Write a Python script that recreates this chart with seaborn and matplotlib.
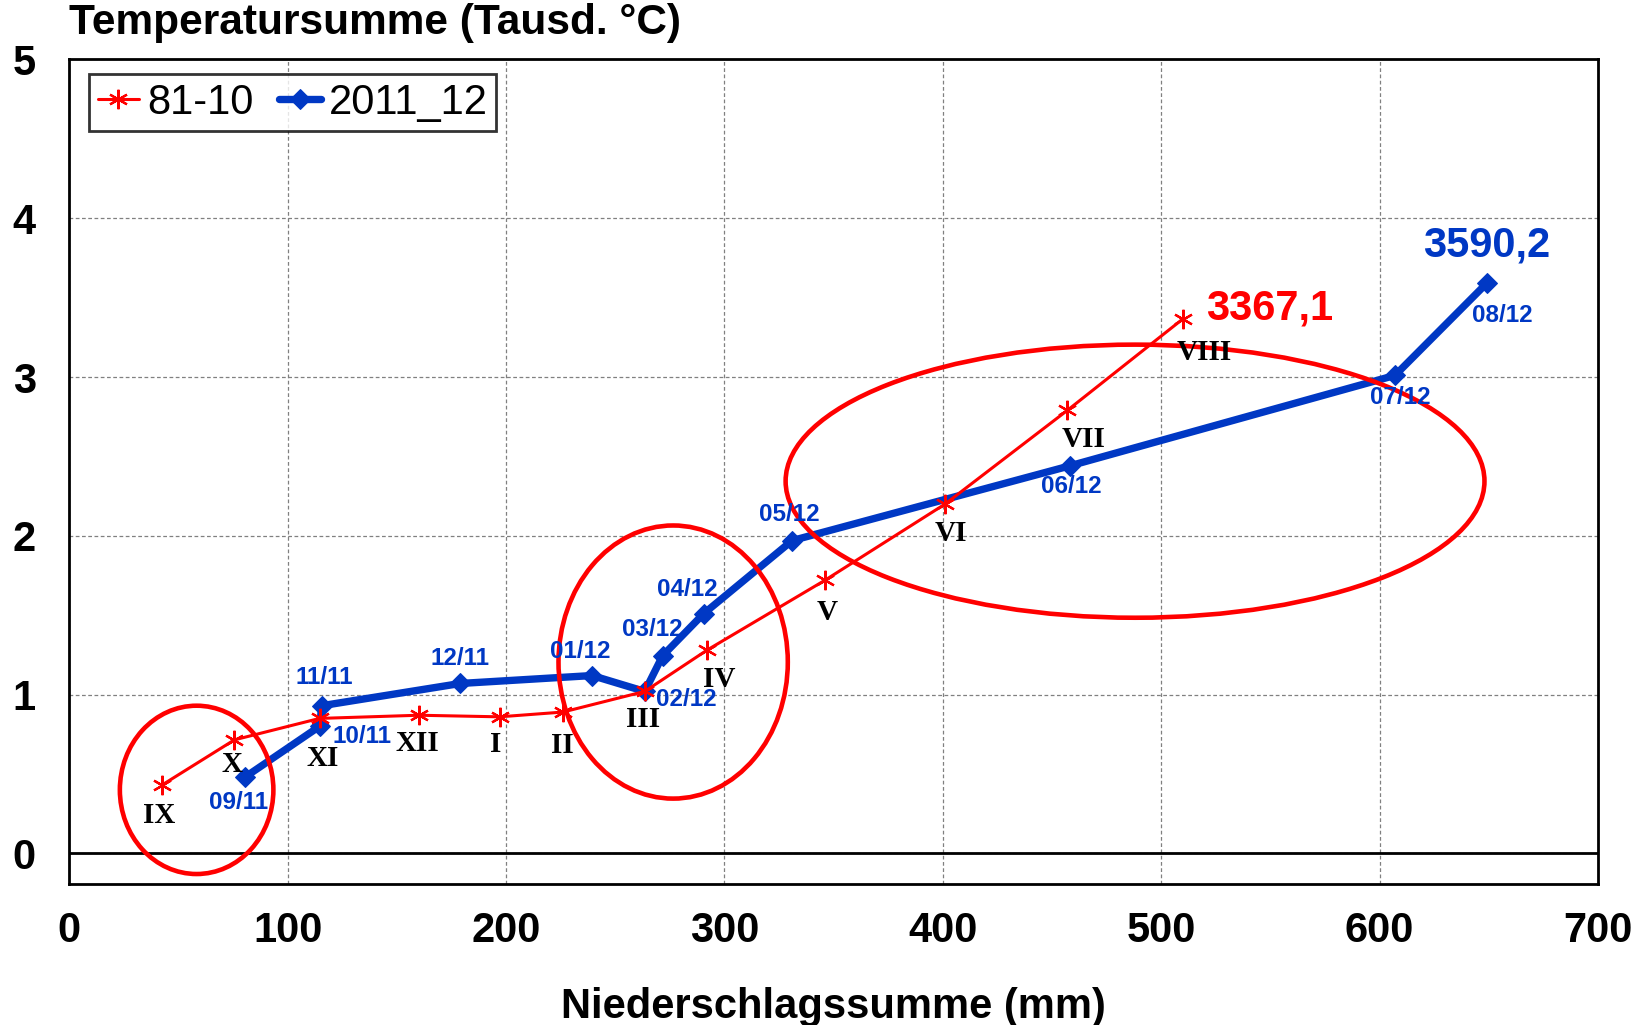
import seaborn as sns
import matplotlib.pyplot as plt
from matplotlib.patches import Ellipse
import numpy as np

# 81-10 (long-term mean), monthly cumulative sums
mean_precip = [42.4, 75.6, 114.6, 160, 197, 226, 263.5, 292, 346, 401, 457, 510]
mean_temp = [0.43, 0.715, 0.85, 0.87, 0.86, 0.89, 1.02, 1.28, 1.72, 2.2, 2.79, 3.367]
mean_labels = ["IX", "X", "XI", "XII", "I", "II", "III", "IV", "V", "VI", "VII", "VIII"]

# 2011_12
year_precip = [80.4, 114.6, 115.6, 179, 239.4, 263.5, 271.7, 290.5, 331, 458, 607, 649]
year_temp = [0.48, 0.80, 0.93, 1.07, 1.12, 1.02, 1.245, 1.51, 1.97, 2.44, 3.01, 3.59]
year_labels = ["09/11", "10/11", "11/11", "12/11", "01/12", "02/12",
               "03/12", "04/12", "05/12", "06/12", "07/12", "08/12"]

final_labels = ["3367,1", "3590,2"]

# highlighted areas: centre x, centre y, width, height (data units)
circles = [(58.3, 0.40, 70.3, 1.06), (276.5, 1.205, 105, 1.72), (488, 2.344, 320, 1.72)]

RED = "#FF0000"
BLUE = "#0038C4"

sns.set_style("white")
plt.rcParams['font.family'] = ['Liberation Sans', 'DejaVu Sans']
for key in ["text.color", "axes.labelcolor", "xtick.color", "ytick.color"]:
    plt.rcParams[key] = "black"

fig = plt.figure(figsize=(16.5, 10.25), dpi=100)
ax = fig.add_axes([0.042, 0.138, 0.9265, 0.804])

sns.lineplot(x=mean_precip, y=mean_temp, sort=False, ax=ax, color=RED,
             linewidth=2.2, marker=(6, 2, 0), markersize=14,
             markeredgecolor=RED, markeredgewidth=1.6, label="81-10", zorder=4)
sns.lineplot(x=year_precip, y=year_temp, sort=False, ax=ax, color=BLUE,
             linewidth=5.3, marker="D", markersize=10,
             markeredgecolor=BLUE, label="2011_12", zorder=3)

ax.axhline(0, color="black", linewidth=2, zorder=2)

for cx, cy, w, h in circles:
    ax.add_patch(Ellipse((cx, cy), w, h, fill=False, edgecolor=RED,
                         linewidth=3.3, zorder=5))

# label offsets in points
mean_offsets = [(-2, -22), (-1.5, -18), (2, -29), (-1, -20), (-3, -20), (0, -24),
                (-1, -20), (9, -21), (1.5, -23), (4.5, -21), (12, -21), (15, -24)]
year_offsets = [(-4.5, -18), (30.5, -7), (2, 20), (0, 18), (-8.5, 17.5), (30, -6),
                (-7.5, 19), (-11.5, 17.5), (-2, 19), (1.5, -15), (4, -16), (11.5, -23)]

for x, y, t, off in zip(mean_precip, mean_temp, mean_labels, mean_offsets):
    ax.annotate(t, (x, y), xytext=off, textcoords="offset points", ha="center",
                va="center", fontsize=21, fontweight="bold",
                family=["Liberation Serif"], color="black", zorder=6)

for x, y, t, off in zip(year_precip, year_temp, year_labels, year_offsets):
    ax.annotate(t, (x, y), xytext=off, textcoords="offset points", ha="center",
                va="center", fontsize=17.5, fontweight="bold", color=BLUE, zorder=6)

ax.annotate(final_labels[0], (mean_precip[-1], mean_temp[-1]), xytext=(62.5, 7.5),
            textcoords="offset points", ha="center", va="center",
            fontsize=30, fontweight="bold", color=RED)
ax.annotate(final_labels[1], (year_precip[-1], year_temp[-1]), xytext=(0, 27.5),
            textcoords="offset points", ha="center", va="center",
            fontsize=30, fontweight="bold", color=BLUE)

ax.set_xlim(0, 700)
ax.set_ylim(-0.19, 5)
ax.set_xticks(range(0, 701, 100))
ax.set_yticks(range(0, 6))
ax.grid(True, linestyle=(0, (3, 2)), color="grey", linewidth=0.9)
ax.tick_params(axis="both", length=0, labelsize=30)
ax.tick_params(axis="x", pad=20)
ax.tick_params(axis="y", pad=24)
for lbl in ax.get_xticklabels() + ax.get_yticklabels():
    lbl.set_fontweight("bold")
for s in ax.spines.values():
    s.set_color("black")
    s.set_linewidth(2)

ax.set_xlabel("Niederschlagssumme (mm)", fontsize=30, fontweight="bold", labelpad=26)
ax.set_ylabel("")
fig.text(0.042, 0.978, "Temperatursumme (Tausd. °C)", fontsize=30.5,
         fontweight="bold", ha="left", va="center")

leg = ax.legend(loc="upper left", bbox_to_anchor=(0.013, 0.982), borderaxespad=0,
                ncol=2, fontsize=30, frameon=True, fancybox=False,
                handlelength=1.0, handletextpad=0.2, columnspacing=0.6,
                borderpad=0.2)
leg.get_frame().set_edgecolor("black")
leg.get_frame().set_linewidth(2)

fig.savefig("out.png", dpi=100)
